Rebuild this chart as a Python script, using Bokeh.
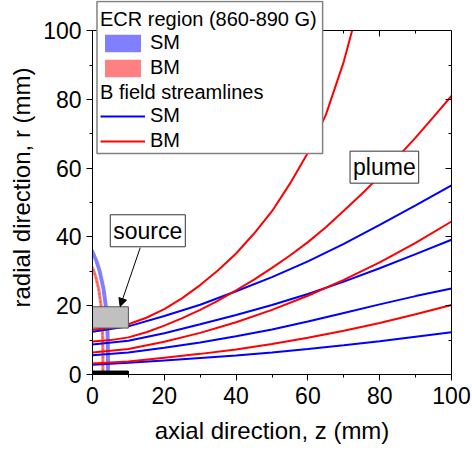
from bokeh.plotting import figure
from bokeh.models import (Range1d, LinearAxis, FixedTicker, Legend, LegendItem,
                          Label, Arrow, NormalHead, BoxAnnotation)
from bokeh.embed import file_html
from bokeh.resources import INLINE

FONT = "Liberation Sans"

# ---------------- data ----------------
major_ticks = [0, 20, 40, 60, 80, 100]
minor_ticks = [10, 30, 50, 70, 90]

# B field streamlines, SM (blue)
z_sm = [0, 10, 20, 30, 40, 50, 60, 70, 80, 90, 100]
sm_r1 = [2.8, 3.4, 4.1, 4.8, 5.5, 6.4, 7.4, 8.5, 9.7, 11.0, 12.3]
sm_r2 = [5.6, 6.4, 7.8, 9.3, 11.1, 13.1, 15.4, 17.9, 20.4, 22.8, 25.0]
sm_r3 = [8.7, 9.8, 12.0, 14.6, 17.3, 20.2, 23.4, 27.0, 30.9, 35.0, 39.2]
sm_r4 = [12.4, 14.0, 17.0, 20.3, 24.2, 28.3, 32.9, 38.0, 43.5, 49.2, 55.0]

# B field streamlines, BM (red)
z_bm = [0, 10, 20, 30, 40, 50, 60, 70, 80, 90, 100]
bm_r1 = [3.2, 3.8, 4.9, 6.0, 7.3, 8.9, 10.7, 12.7, 15.0, 17.5, 20.2]
bm_r2 = [6.4, 7.4, 9.5, 12.1, 15.2, 18.8, 22.9, 27.5, 32.6, 38.3, 44.5]
z_bm3 = [0, 5, 10, 15, 20, 25, 30, 35, 40, 45, 50, 55, 60, 65, 70, 75, 80, 85, 90, 95, 100]
bm_r3 = [9.6, 10.0, 10.8, 12.3, 14.2, 16.4, 18.8, 21.5, 24.5, 27.6, 31.0, 34.6,
         38.5, 42.8, 47.6, 52.5, 57.7, 63.2, 68.9, 74.9, 81.0]
z_bm4 = [0, 5, 10, 15, 20, 25, 30, 35, 40, 45, 50, 55, 60, 65, 70, 72.3]
bm_r4 = [13.0, 13.5, 14.6, 16.5, 19.0, 22.2, 26.0, 30.3, 35.2, 41.0, 47.5, 55.5,
         64.5, 75.5, 91.0, 100.0]

# ECR region (860-890 G) bands: radial positions and axial limits
ecr_sm_r = [0, 5, 10, 15, 20, 25, 30, 33, 35, 36.5]
ecr_sm_z1 = [3.75, 3.75, 3.7, 3.55, 3.15, 2.5, 1.45, 0.55, -0.25, -0.9]
ecr_sm_z2 = [4.85, 4.85, 4.8, 4.65, 4.25, 3.6, 2.55, 1.65, 0.85, 0.2]
ecr_bm_r = [0, 5, 10, 15, 20, 25, 28, 30, 31.5]
ecr_bm_z1 = [2.45, 2.45, 2.4, 2.25, 1.95, 1.25, 0.55, -0.05, -0.6]
ecr_bm_z2 = [3.35, 3.35, 3.3, 3.15, 2.85, 2.15, 1.45, 0.85, 0.3]

# source block and base bar
source_z = [0, 10]
source_r = [13.5, 19.7]
base_z = [0, 10]
base_r = [0, 1.0]

# annotations (data coordinates)
source_label_pos = (15.4, 41.8)
source_arrow = (13.3, 36.9, 7.7, 19.8)
plume_label_pos = (81.3, 60.3)
legend_box = (1.25, 64.1, 64.3, 108.5)   # left, right, bottom, top

R_MAX = 100
Y_END = 108.77   # room above the axes box for the legend

# ---------------- figure ----------------
p = figure(width=472, height=452, output_backend="svg", toolbar_location=None,
           x_range=Range1d(0, 100), y_range=Range1d(0, Y_END),
           x_axis_label="axial direction, z (mm)",
           y_axis_label="radial direction, r (mm)",
           min_border_left=92, min_border_right=21, min_border_top=0,
           min_border_bottom=78)
p.grid.visible = False
p.outline_line_color = None
p.background_fill_color = "white"
p.border_fill_color = "white"

for ax in (p.xaxis[0], p.yaxis[0]):
    ax.ticker = FixedTicker(ticks=major_ticks, minor_ticks=minor_ticks)
    ax.major_tick_out = 6
    ax.major_tick_in = 0
    ax.minor_tick_out = 3
    ax.minor_tick_in = 0
    ax.major_label_text_font = FONT
    ax.major_label_text_font_size = "23px"
    ax.major_label_text_color = "black"
    ax.axis_label_text_font = FONT
    ax.axis_label_text_font_size = "24px"
    ax.axis_label_text_font_style = "normal"
    ax.axis_label_text_color = "black"
    ax.axis_line_color = "black"
    ax.major_tick_line_color = "black"
    ax.minor_tick_line_color = "black"
p.xaxis[0].major_label_standoff = 6
p.xaxis[0].axis_label_standoff = 10
p.yaxis[0].major_label_standoff = 5
p.yaxis[0].axis_label_standoff = 5
p.yaxis[0].bounds = (0, R_MAX)

# top edge (inward ticks) at r = 100 and right edge (inward ticks)
top_ax = LinearAxis(ticker=FixedTicker(ticks=major_ticks, minor_ticks=minor_ticks),
                    fixed_location=R_MAX,
                    major_tick_in=6, major_tick_out=0, minor_tick_in=3, minor_tick_out=0,
                    major_label_overrides={t: "" for t in major_ticks},
                    major_label_text_font_size="1px", major_label_standoff=0,
                    axis_line_color="black", major_tick_line_color="black",
                    minor_tick_line_color="black")
p.add_layout(top_ax, "above")
right_ax = LinearAxis(ticker=FixedTicker(ticks=major_ticks, minor_ticks=minor_ticks),
                      bounds=(0, R_MAX),
                      major_tick_in=6, major_tick_out=0, minor_tick_in=3, minor_tick_out=0,
                      major_label_overrides={t: "" for t in major_ticks},
                      major_label_text_font_size="1px", major_label_standoff=0,
                      axis_line_color="black", major_tick_line_color="black",
                      minor_tick_line_color="black")
p.add_layout(right_ax, "right")

# ECR bands
ecr_sm = p.harea(y=ecr_sm_r, x1=ecr_sm_z1, x2=ecr_sm_z2, fill_color="#8080ff", fill_alpha=1.0)
ecr_bm = p.harea(y=ecr_bm_r, x1=ecr_bm_z1, x2=ecr_bm_z2, fill_color="#ff8080", fill_alpha=1.0)
p.line(x=[(a + b) / 2 for a, b in zip(ecr_bm_z1, ecr_bm_z2)], y=ecr_bm_r,
       line_color="#e03030", line_width=1, line_dash="2 2", line_alpha=0.8)

# streamlines
sm_lines = p.multi_line(xs=[z_sm] * 4, ys=[sm_r1, sm_r2, sm_r3, sm_r4],
                        line_color="#0000ff", line_width=2)
bm_lines = p.multi_line(xs=[z_bm, z_bm, z_bm3, z_bm4], ys=[bm_r1, bm_r2, bm_r3, bm_r4],
                        line_color="#ff0000", line_width=2)

# source block and base
p.quad(left=[source_z[0]], right=[source_z[1]], bottom=[source_r[0]], top=[source_r[1]],
       fill_color="#c0c0c0", line_color="#555555", line_width=1)
p.quad(left=[base_z[0]], right=[base_z[1]], bottom=[base_r[0]], top=[base_r[1]],
       fill_color="black", line_color="black")

# legend frame (white box with grey border), drawn under the two legends
p.add_layout(BoxAnnotation(left=legend_box[0], right=legend_box[1],
                           bottom=legend_box[2], top=legend_box[3],
                           fill_color="white", fill_alpha=1.0,
                           line_color="#808080", line_width=1.5, line_alpha=1.0))


def style_legend(lg):
    lg.title_text_font = FONT
    lg.title_text_font_size = "20px"
    lg.title_text_font_style = "normal"
    lg.title_text_color = "black"
    lg.title_standoff = 0
    lg.label_text_font = FONT
    lg.label_text_font_size = "20px"
    lg.label_text_color = "black"
    lg.glyph_width = 45
    lg.glyph_height = 22
    lg.label_standoff = 5
    lg.label_height = 22
    lg.spacing = 2
    lg.padding = 2
    lg.margin = 0
    lg.border_line_alpha = 0
    lg.background_fill_alpha = 0


legend_a = Legend(items=[LegendItem(label="SM", renderers=[ecr_sm]),
                         LegendItem(label="BM", renderers=[ecr_bm])],
                  title="ECR region (860-890 G)", location=(6, 293))
legend_b = Legend(items=[LegendItem(label="SM", renderers=[sm_lines]),
                         LegendItem(label="BM", renderers=[bm_lines])],
                  title="B field streamlines", location=(6, 220))
style_legend(legend_a)
style_legend(legend_b)
p.add_layout(legend_a, "center")
p.add_layout(legend_b, "center")

p.add_layout(Arrow(x_start=source_arrow[0], y_start=source_arrow[1],
                   x_end=source_arrow[2], y_end=source_arrow[3],
                   line_color="black", line_width=1,
                   end=NormalHead(size=8, fill_color="black", line_color="black")))

for (lx, ly), txt in ((source_label_pos, "source"), (plume_label_pos, "plume")):
    p.add_layout(Label(x=lx, y=ly, text=txt, text_font=FONT, text_font_size="23px",
                       text_color="black", text_align="center", text_baseline="middle",
                       background_fill_color="white", border_line_color="#333333",
                       border_line_width=1, padding=3))

open("out.html", "w").write(file_html(p, INLINE))
